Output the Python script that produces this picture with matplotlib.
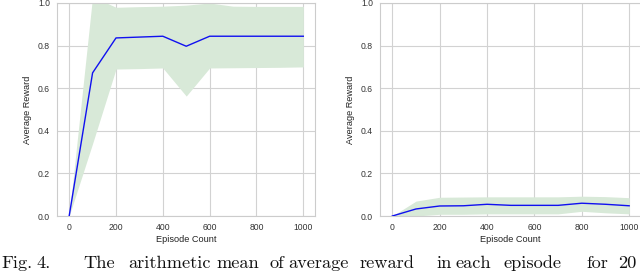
import matplotlib
matplotlib.use("Agg")
import matplotlib.pyplot as plt
import numpy as np

# Left panel data
x_left = [0, 100, 200, 300, 400, 500, 600, 700, 800, 900, 1000]
mean_left = [0.0, 0.672, 0.836, 0.840, 0.844, 0.797, 0.844, 0.844, 0.844, 0.844, 0.844]
upper_left = [0.0, 1.03, 0.98, 0.983, 0.985, 0.99, 1.0, 0.985, 0.984, 0.984, 0.984]
lower_left = [0.0, 0.34, 0.69, 0.692, 0.695, 0.563, 0.695, 0.696, 0.697, 0.698, 0.70]

# Right panel data
x_right = [0, 100, 200, 300, 400, 500, 600, 700, 800, 900, 1000]
mean_right = [0.0, 0.033, 0.047, 0.048, 0.055, 0.050, 0.050, 0.050, 0.060, 0.055, 0.048]
upper_right = [0.0, 0.070, 0.088, 0.089, 0.090, 0.090, 0.090, 0.090, 0.093, 0.091, 0.086]
lower_right = [0.0, 0.0, 0.008, 0.008, 0.010, 0.010, 0.010, 0.010, 0.022, 0.015, 0.010]

xticks = [0, 200, 400, 600, 800, 1000]
yticks = [0.0, 0.2, 0.4, 0.6, 0.8, 1.0]
xlabel = "Episode Count"
ylabel = "Average Reward"
caption_words = ["Fig.", "4.", "The", "arithmetic", "mean", "of", "average",
                 "reward", "in", "each", "episode", "for", "20"]
# left edges (pixels) of the caption words, as laid out in the reference
caption_x = [1, 36, 83, 128, 216, 270, 288, 360, 436, 456, 504, 586, 618]

plt.rcParams["font.family"] = ["Liberation Sans", "DejaVu Sans"]

fig = plt.figure(figsize=(6.4, 2.72), dpi=100)
ax1 = fig.add_axes([57/640, 1-216/272, (315-57)/640, (216-3)/272])
ax2 = fig.add_axes([380/640, 1-216/272, (641-380)/640, (216-3)/272])

for ax, x, m, lo, up in [(ax1, x_left, mean_left, lower_left, upper_left),
                         (ax2, x_right, mean_right, lower_right, upper_right)]:
    ax.set_facecolor("white")
    ax.fill_between(x, lo, up, color="#d8e9d8", alpha=1.0, linewidth=0, zorder=2)
    ax.plot(x, m, color="#1010f0", linewidth=1.0, zorder=3)
    ax.set_xlim(-52, 1050)
    ax.set_ylim(0, 1.0)
    ax.set_xticks(xticks)
    ax.set_yticks(yticks)
    ax.set_xticklabels([str(t) for t in xticks])
    ax.set_yticklabels([f"{t:.1f}" for t in yticks])
    ax.grid(True, color="#d2d2d2", linewidth=0.8, zorder=1)
    ax.set_axisbelow(True)
    ax.tick_params(axis="both", length=0, labelsize=6.2, colors="#333333", pad=5)
    for s in ax.spines.values():
        s.set_color("#cccccc")
        s.set_linewidth(0.8)
    ax.set_xlabel(xlabel, fontsize=6.6, color="#222222", labelpad=2.5)
    ax.set_ylabel(ylabel, fontsize=6.6, color="#222222", labelpad=4)

# Caption along the bottom edge
serif = ["cmr10", "Liberation Serif", "DejaVu Serif"]
for w, xp in zip(caption_words, caption_x):
    fig.text(xp, 272 - 268.2, w, transform=None, fontsize=13.2, family=serif,
             color="#111111", ha="left", va="baseline")

fig.savefig("out.png", dpi=100, facecolor="white")
